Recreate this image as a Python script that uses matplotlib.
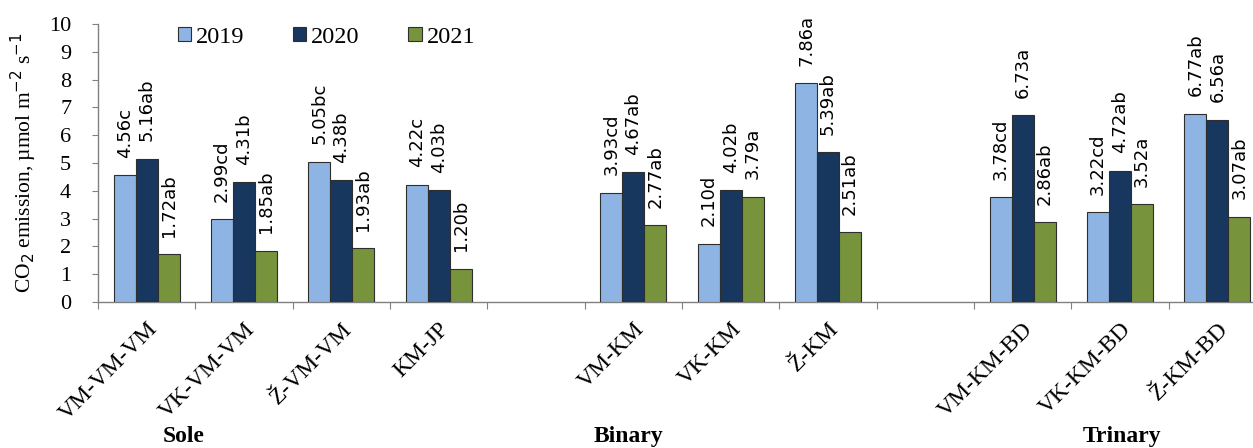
import numpy as np
import matplotlib
matplotlib.use('Agg')
import matplotlib.pyplot as plt

categories = ['VM-VM-VM', 'VK-VM-VM', 'Ž-VM-VM', 'KM-JP',
              'VM-KM', 'VK-KM', 'Ž-KM',
              'VM-KM-BD', 'VK-KM-BD', 'Ž-KM-BD']
# slot index on the x axis (slots 4 and 8 are left empty between groups)
slots = [0, 1, 2, 3, 5, 6, 7, 9, 10, 11]
n_slots = 12

years = ['2019', '2020', '2021']
v2019 = [4.56, 2.99, 5.05, 4.22, 3.93, 2.10, 7.86, 3.78, 3.22, 6.77]
v2020 = [5.16, 4.31, 4.38, 4.03, 4.67, 4.02, 5.39, 6.73, 4.72, 6.56]
v2021 = [1.72, 1.85, 1.93, 1.20, 2.77, 3.79, 2.51, 2.86, 3.52, 3.07]
l2019 = ['c', 'cd', 'bc', 'c', 'cd', 'd', 'a', 'cd', 'cd', 'ab']
l2020 = ['ab', 'b', 'b', 'b', 'ab', 'b', 'ab', 'a', 'ab', 'a']
l2021 = ['ab', 'ab', 'ab', 'b', 'ab', 'a', 'ab', 'ab', 'a', 'ab']

groups = ['Sole', 'Binary', 'Trinary']
group_x = [184, 628, 1122]  # pixel centres of group captions

colors = ['#8EB4E3', '#17375E', '#77933C']

plt.rcParams['font.family'] = ['Liberation Serif', 'DejaVu Serif']

W, H = 1253, 448
fig = plt.figure(figsize=(W / 100, H / 100), dpi=100)
ax = fig.add_axes([98 / W, (H - 302) / H, 1168 / W, 278 / H])

x = np.array(slots, dtype=float)
bw = 0.226
for i, (vals, labs) in enumerate(zip([v2019, v2020, v2021], [l2019, l2020, l2021])):
    xs = x + (i - 1) * bw
    ax.bar(xs, vals, bw, color=colors[i], edgecolor='#2e2e2e', linewidth=0.8,
           label=years[i], zorder=3)
    for xi, v, l in zip(xs, vals, labs):
        ax.annotate(f'{v:.2f}{l}', (xi, v), xytext=(0, 12.5), textcoords='offset points',
                    rotation=90, ha='center', va='bottom', fontsize=13,
                    family='DejaVu Sans')

ax.set_xlim(-0.5, n_slots - 0.5)
ax.set_ylim(0, 10)
ax.set_yticks(range(0, 11))
ax.tick_params(axis='y', labelsize=16, direction='out', length=4.3, color='#808080', pad=15)

ax.set_xticks(np.arange(-0.5, n_slots, 1.0))
ax.set_xticklabels([])
ax.tick_params(axis='x', which='major', direction='out', length=5, color='#808080')
ax.set_xticks(x, minor=True)
ax.set_xticklabels(categories, minor=True, rotation=45, ha='right',
                   rotation_mode='anchor', fontsize=17)
ax.tick_params(axis='x', which='minor', length=0, pad=12)

for s in ['top', 'right']:
    ax.spines[s].set_visible(False)
for s in ['left', 'bottom']:
    ax.spines[s].set_color('#808080')
    ax.spines[s].set_linewidth(1.0)

fig.text(24 / W, 1 - 163 / H, 'CO$_2$ emission, µmol m$^{-2}$ s$^{-1}$', rotation=90,
         ha='center', va='center', fontsize=15.5)

for g, gx in zip(groups, group_x):
    fig.text(gx / W, 1 - 436 / H, g, ha='center', va='center', fontsize=17,
             fontweight='bold')

leg = ax.legend(loc='upper left', bbox_to_anchor=(168 / W, 1 - 17 / H),
                bbox_transform=fig.transFigure, ncol=3, frameon=False,
                fontsize=17.5, handlelength=0.55, handleheight=0.55,
                handletextpad=0.2, columnspacing=2.0, borderaxespad=0)

fig.savefig('out.png', dpi=100)
